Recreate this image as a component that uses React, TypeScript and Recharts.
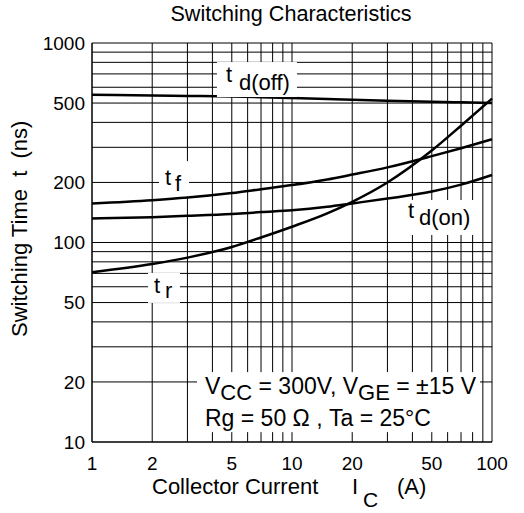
import React from "react";
import { LineChart, Line, XAxis, YAxis, CartesianGrid, ReferenceDot } from "recharts";

const current = [1, 2, 3, 5, 7, 10, 15, 20, 30, 50, 70, 100];
const tdOff = [550, 546, 543, 539, 535, 530, 524, 519, 513, 507, 504, 501];
const tf = [157, 163, 168, 177, 185, 194, 207, 219, 238, 271, 297, 329];
const tdOn = [132, 134, 136, 139, 142, 145, 151, 157, 166, 180, 195, 218];
const tr = [71, 78, 84, 95, 106, 120, 140, 160, 200, 289, 385, 526];

const xGrid = [1, 2, 3, 4, 5, 6, 7, 8, 9, 10, 20, 30, 40, 50, 60, 70, 80, 90, 100];
const xLabels = [1, 2, 5, 10, 20, 50, 100];
const yGrid = [10, 20, 30, 40, 50, 60, 70, 80, 90, 100, 200, 300, 400, 500, 600, 700, 800, 900, 1000];
const yLabels = [10, 20, 50, 100, 200, 500, 1000];

const rows = current.map((c, i) => ({ c, tdOff: tdOff[i], tf: tf[i], tdOn: tdOn[i], tr: tr[i] }));

const FONT = "'Liberation Sans', Arial, sans-serif";
const W = 524;
const H = 513;
const M = { top: 43, right: 32, left: 92, bottom: 71 };

// white-boxed curve label: "t" + subscript, offsets relative to box centre
function tag(sub: string, w: number, h: number, t: [number, number], s: [number, number]) {
  return (p: any) => {
    const { cx, cy } = p;
    return (
      <g>
        <rect x={cx - w / 2} y={cy - h / 2} width={w} height={h} fill="#fff" />
        <text x={cx + t[0]} y={cy + t[1]} fontFamily={FONT} fontSize={22} fill="#000">t</text>
        <text x={cx + s[0]} y={cy + s[1]} fontFamily={FONT} fontSize={22} fill="#000">{sub}</text>
      </g>
    );
  };
}

function note(p: any) {
  const { cx, cy } = p;
  return (
    <g>
      <rect x={cx} y={cy} width={283} height={60} fill="#fff" />
      <text x={cx + 8} y={cy + 22} fontFamily={FONT} fontSize={23} fill="#000">
        V<tspan dy={6} fontSize={22}>CC</tspan>
        <tspan dy={-6}> = 300V, V</tspan>
        <tspan dy={6} fontSize={22}>GE</tspan>
        <tspan dy={-6}> = ±15 V</tspan>
      </text>
      <text x={cx + 8} y={cy + 54} fontFamily={FONT} fontSize={23} fill="#000">
        Rg = 50 Ω , Ta = 25°C
      </text>
    </g>
  );
}

export default function App() {
  return (
    <div style={{ position: "absolute", left: 0, top: 0, width: W, height: H, background: "#fff" }}>
      <div style={{ position: "absolute", left: 0, top: 0 }}>
        <LineChart width={W} height={H} data={rows} margin={{ top: M.top, right: M.right, left: 0, bottom: 0 }}>
          <CartesianGrid stroke="#000" strokeWidth={1} />
          <XAxis
            dataKey="c"
            type="number"
            scale="log"
            domain={[1, 100]}
            ticks={xGrid}
            interval={0}
            height={M.bottom}
            tickLine={false}
            tickSize={0}
            tickMargin={15}
            axisLine={{ stroke: "#000" }}
            tick={{ fill: "#000", fontSize: 19, fontFamily: FONT }}
            tickFormatter={(v: number) => (xLabels.includes(v) ? String(v) : "")}
          />
          <YAxis
            type="number"
            scale="log"
            domain={[10, 1000]}
            ticks={yGrid}
            interval={0}
            width={M.left}
            tickLine={false}
            tickSize={0}
            tickMargin={7}
            axisLine={{ stroke: "#000" }}
            tick={{ fill: "#000", fontSize: 19, fontFamily: FONT }}
            tickFormatter={(v: number) => (yLabels.includes(v) ? String(v) : "")}
          />
          <Line type="monotone" dataKey="tdOff" stroke="#000" strokeWidth={2.5} dot={false} isAnimationActive={false} />
          <Line type="monotone" dataKey="tf" stroke="#000" strokeWidth={2.5} dot={false} isAnimationActive={false} />
          <Line type="monotone" dataKey="tdOn" stroke="#000" strokeWidth={2.5} dot={false} isAnimationActive={false} />
          <Line type="monotone" dataKey="tr" stroke="#000" strokeWidth={2.5} dot={false} isAnimationActive={false} />
          <text x={291} y={21} textAnchor="middle" fontFamily={FONT} fontSize={21.6} fill="#000">
            Switching Characteristics
          </text>
          <g fontFamily={FONT} fontSize={22} fill="#000">
            <text x={152} y={494}>Collector Current</text>
            <text x={352} y={494}>I</text>
            <text x={363} y={507} fontSize={21}>C</text>
            <text x={397} y={494}>(A)</text>
            <text x={27} y={337} transform="rotate(-90 27 337)" style={{ whiteSpace: "pre" }}>
              {"Switching Time  t  (ns)"}
            </text>
          </g>
        </LineChart>
      </div>
      {/* label overlay, same scales, drawn above the curves */}
      <div style={{ position: "absolute", left: 0, top: 0 }}>
        <LineChart width={W} height={H} data={rows} margin={M}>
          <XAxis dataKey="c" type="number" scale="log" domain={[1, 100]} allowDataOverflow hide />
          <YAxis type="number" scale="log" domain={[10, 1000]} allowDataOverflow hide />
          <Line dataKey="tr" stroke="none" dot={false} activeDot={false} isAnimationActive={false} />
          <ReferenceDot x={6.68} y={656} ifOverflow="visible" shape={tag("d(off)", 80, 35, [-31, 2.5], [-18, 10.5])} />
          <ReferenceDot x={2.57} y={209} ifOverflow="visible" shape={tag("f", 30, 35, [-9, 6.5], [1, 12])} />
          <ReferenceDot x={55} y={133.5} ifOverflow="visible" shape={tag("d(on)", 74, 35, [-32, 0.5], [-21, 7.5])} />
          <ReferenceDot x={2.29} y={59.2} ifOverflow="visible" shape={tag("r", 32, 30, [-10, 5], [1, 10])} />
          <ReferenceDot x={3.35} y={22.4} ifOverflow="visible" shape={note} />
        </LineChart>
      </div>
    </div>
  );
}
